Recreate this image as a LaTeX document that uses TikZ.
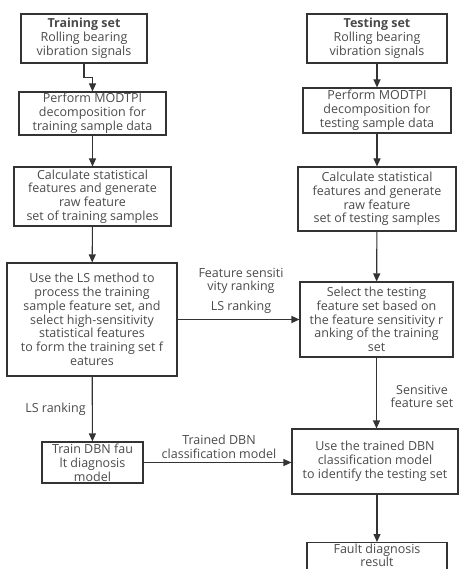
\documentclass[tikz,border=0pt]{standalone}
\usepackage{fontspec}
\setmainfont{Open Sans}
\usetikzlibrary{arrows.meta}
\definecolor{txt}{HTML}{4A4A4A}
\definecolor{ln}{HTML}{333333}
\tikzset{
  box/.style={draw=ln, line width=1.1pt, rectangle, align=center, inner sep=0pt,
    text=txt, font=\fontsize{12.5}{13.8}\selectfont},
  lab/.style={align=center, inner sep=0pt, text=txt, font=\fontsize{12.5}{13.8}\selectfont},
  arr/.style={draw=ln, line width=1.1pt, -{Triangle[length=8pt,width=7pt]}},
}
\begin{document}
\begin{tikzpicture}[x=1pt,y=-1pt]
\useasboundingbox (0,0) rectangle (459,569);
\clip (0,0) rectangle (459,569);
% left column
\node[box, minimum width=126pt, minimum height=49pt] (b1) at (84,38.5)
  {\textbf{Training set}\\Rolling bearing\\vibration signals};
\node[box, minimum width=147pt, minimum height=43pt] (b2) at (92.5,113.5)
  {Perform MODTPI\\decomposition for\\training sample data};
\node[box, minimum width=157pt, minimum height=59pt] (b3) at (92.5,196.5)
  {Calculate statistical\\features and generate\\raw feature\\set of training samples};
\node[box, minimum width=170pt, minimum height=113pt] (b4) at (92,319.5)
  {Use the LS method to\\process the training\\sample feature set, and\\select high-sensitivity\\statistical features\\to form the training set f\\eatures};
\node[box, minimum width=101pt, minimum height=41pt] (b8) at (92.5,462.5)
  {Train DBN fau\\lt diagnosis\\model};
% right column
\node[box, minimum width=140pt, minimum height=49pt] (t1) at (377,38.5)
  {\textbf{Testing set}\\Rolling bearing\\vibration signals};
\node[box, minimum width=148pt, minimum height=45pt] (t2) at (377,110.5)
  {Perform MODTPI\\decomposition for\\testing sample data};
\node[box, minimum width=158pt, minimum height=64pt] (t3) at (377,199)
  {Calculate statistical\\features and generate\\raw feature\\set of testing samples};
\node[box, minimum width=153pt, minimum height=75pt] (b5) at (376.5,319.5)
  {Select the testing\\feature set based on\\the feature sensitivity r\\anking of the training\\set};
\node[box, minimum width=166pt, minimum height=65pt] (b6) at (375,461.5)
  {Use the trained DBN\\classification model\\to identify the testing set};
\node[box, minimum width=140pt, inner ysep=1pt, anchor=north,
      font=\fontsize{12.5}{13}\selectfont] (b7) at (377,542)
  {Fault diagnosis\\result\\\strut};
% labels
\node[lab] (l1) at (241,281) {Feature sensiti\\vity ranking};
\node[lab] (l2) at (241,307) {LS ranking};
\node[lab] (l3) at (55.5,409) {LS ranking};
\node[lab] (l4) at (219,446.5) {Trained DBN\\classification model};
\node[lab] (l5) at (422,396.5) {Sensitive\\feature set};
% connectors
\draw[arr] (b1.south) -- ++(0,14) -| (b2.north);
\draw[arr] (b2) -- (b3);
\draw[arr] (b3) -- (b4);
\draw[arr] (b4) -- (b8);
\draw[arr] (b4) -- (b5);
\draw[arr] (t1) -- (t2);
\draw[arr] (t2) -- (t3);
\draw[arr] (t3) -- (b5);
\draw[arr] (b5.south) -- (b5.south |- b6.north);
\draw[arr] (b8) -- (b8 -| b6.west);
\draw[arr] (b6.south -| b7.north) -- (b7.north);
\end{tikzpicture}
\end{document}
